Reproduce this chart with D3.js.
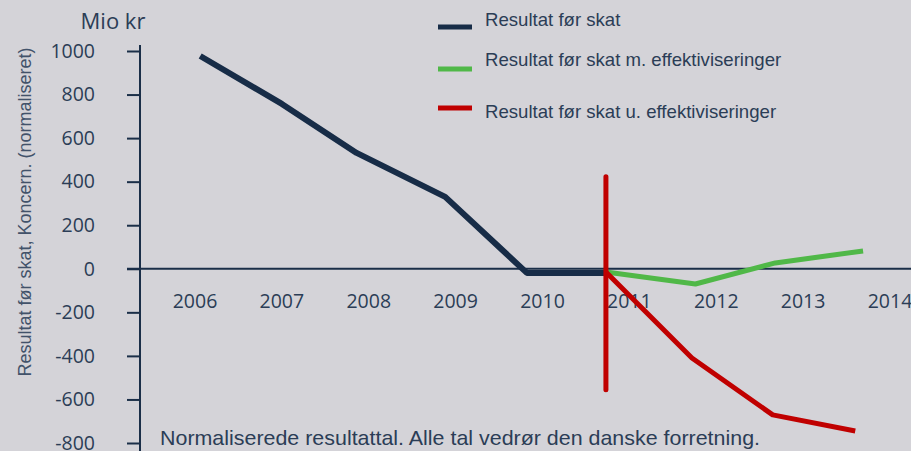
<!DOCTYPE html>
<html>
<head>
<meta charset="utf-8">
<script src="https://cdn.jsdelivr.net/npm/d3@7"></script>
<style>
  body { margin: 0; background: #d4d3d8; }
  svg { display: block; }
</style>
</head>
<body>
<div id="chart"></div>
<script>
// Chart size
var svgWidth = 911;
var svgHeight = 451;

// Data (x = position in years, y = Mio kr)
var yearLabels = [2006, 2007, 2008, 2009, 2010, 2011, 2012, 2013, 2014];
var yTicks = [1000, 800, 600, 400, 200, 0, -200, -400, -600, -800];

var baseX = [2006.06, 2007.0, 2007.86, 2008.88, 2009.82, 2010.73];
var baseY = [977, 757, 532, 330, -19, -19];

var withX = [2010.73, 2011.76, 2012.68, 2013.69];
var withY = [-15, -70, 27, 82];

var withoutX = [2010.73, 2011.72, 2012.65, 2013.60];
var withoutY = [-15, -410, -671, -745];

var markerX = 2010.73;
var markerRange = [423, -556];

var seriesNames = ["Resultat før skat", "Resultat før skat m. effektiviseringer", "Resultat før skat u. effektiviseringer"];
var seriesColors = ["#172c47", "#50b848", "#c00000"];

var navy = "#1a2e48";
var textColor = "#2b3d56";

var svg = d3.select("#chart").append("svg")
    .attr("width", svgWidth).attr("height", svgHeight);

// Scales
var x = d3.scaleLinear().domain([2006, 2014]).range([195, 890]);
var y = d3.scaleLinear().domain([-800, 1000]).range([443, 51]);

// Y axis (plain hyphen for negatives, like the original)
var yAxis = svg.append("g")
    .attr("transform", "translate(140,0)")
    .call(d3.axisLeft(y).tickValues(yTicks).tickSize(13).tickPadding(32).tickFormat(d => String(d)));
yAxis.select(".domain").remove();
yAxis.selectAll(".tick line").attr("stroke", navy).attr("stroke-width", 2);
yAxis.selectAll(".tick text")
    .attr("fill", textColor)
    .style("font-family", "'Open Sans', sans-serif")
    .style("font-size", "19.5px");

svg.append("line")
    .attr("x1", 140).attr("x2", 140)
    .attr("y1", 45).attr("y2", svgHeight)
    .attr("stroke", navy).attr("stroke-width", 2);

// Zero line
svg.append("line")
    .attr("x1", 127).attr("x2", svgWidth)
    .attr("y1", y(0)).attr("y2", y(0))
    .attr("stroke", navy).attr("stroke-width", 2);

// Year labels
svg.selectAll(".year").data(yearLabels).enter().append("text")
    .attr("class", "year")
    .attr("x", d => x(d))
    .attr("y", 308)
    .attr("text-anchor", "middle")
    .attr("fill", textColor)
    .style("font-family", "'Open Sans', sans-serif")
    .style("font-size", "19.5px")
    .text(d => d);

// Unit label
svg.append("text")
    .attr("x", 113).attr("y", 29)
    .attr("text-anchor", "middle")
    .attr("fill", textColor)
    .style("font-family", "'Open Sans', sans-serif")
    .style("font-size", "22px")
    .text("Mio kr");

// Y axis title
svg.append("text")
    .attr("transform", "translate(31,212) rotate(-90)")
    .attr("text-anchor", "middle")
    .attr("fill", "#42526a")
    .style("font-family", "'Liberation Sans', Arial, sans-serif")
    .style("font-size", "18px")
    .text("Resultat før skat, Koncern. (normaliseret)");

// Lines
var line = d3.line().x(d => x(d[0])).y(d => y(d[1]));

var series = [
    d3.zip(baseX, baseY),
    d3.zip(withX, withY),
    d3.zip(withoutX, withoutY)
];
var widths = [6, 5, 5];

// green and red first, dark on top
[1, 2, 0].forEach(function (i) {
    svg.append("path")
        .datum(series[i])
        .attr("d", line)
        .attr("fill", "none")
        .attr("stroke", seriesColors[i])
        .attr("stroke-width", widths[i])
        .attr("stroke-linejoin", "round");
});

// Vertical marker
svg.append("line")
    .attr("x1", x(markerX)).attr("x2", x(markerX))
    .attr("y1", y(markerRange[0])).attr("y2", y(markerRange[1]))
    .attr("stroke", seriesColors[2])
    .attr("stroke-width", 5)
    .attr("stroke-linecap", "round");

// Legend
var legendY = [27, 69, 108];
var legendTextY = [26, 66, 118];
var legend = svg.append("g");
seriesNames.forEach(function (name, i) {
    legend.append("line")
        .attr("x1", 438).attr("x2", 472)
        .attr("y1", legendY[i]).attr("y2", legendY[i])
        .attr("stroke", seriesColors[i])
        .attr("stroke-width", 5);
    legend.append("text")
        .attr("x", 485).attr("y", legendTextY[i])
        .attr("fill", textColor)
        .style("font-family", "'Liberation Sans', Arial, sans-serif")
        .style("font-size", "18.6px")
        .text(name);
});

// Footnote
svg.append("text")
    .attr("x", 160).attr("y", 445)
    .attr("fill", textColor)
    .attr("textLength", 600)
    .attr("lengthAdjust", "spacingAndGlyphs")
    .style("font-family", "'Liberation Sans', Arial, sans-serif")
    .style("font-size", "21px")
    .text("Normaliserede resultattal. Alle tal vedrør den danske forretning.");
</script>
</body>
</html>
